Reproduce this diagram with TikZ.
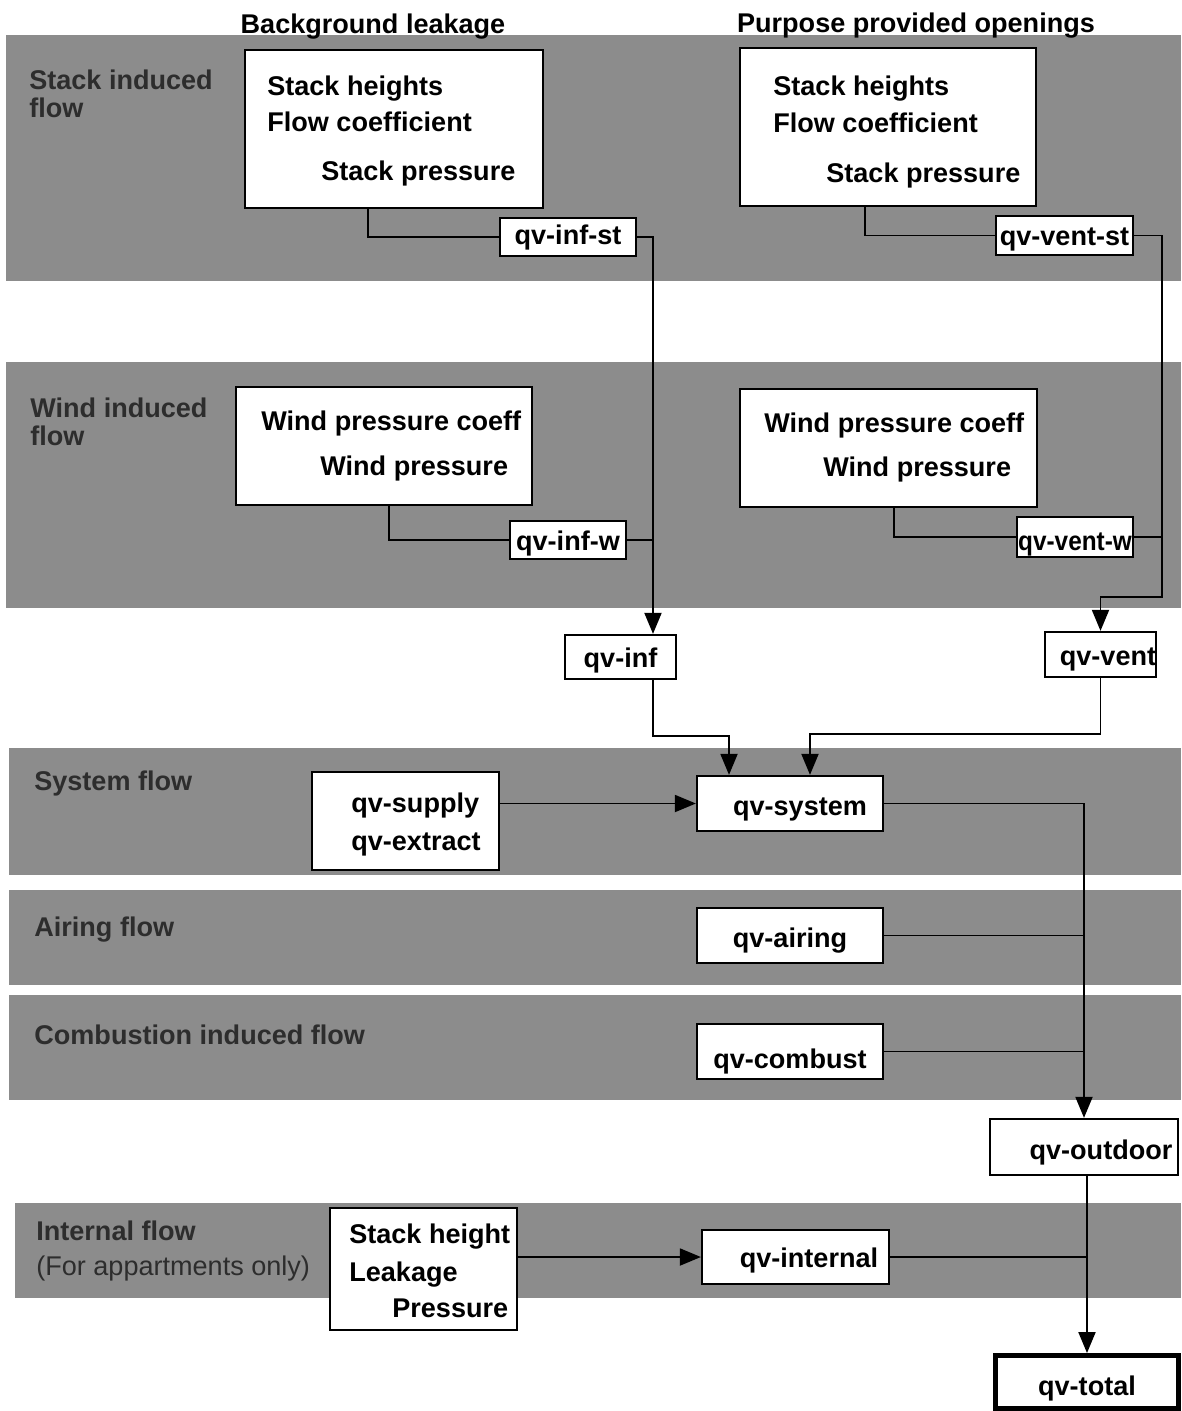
\documentclass[tikz,border=0pt]{standalone}
\usepackage{fontspec}
\setmainfont{Liberation Sans}
\usepackage{tikz}
\usetikzlibrary{calc}
\usetikzlibrary{arrows.meta}
\definecolor{bandgray}{RGB}{140,140,140}
\definecolor{labelgray}{RGB}{45,45,45}

\begin{document}
\begin{tikzpicture}[x=0.02cm, y=-0.02cm,
    band/.style={fill=bandgray},
    bandlabel/.style={anchor=west, align=left, inner sep=0pt, text=labelgray,
        font=\bfseries\fontsize{15.4}{15.9}\selectfont},
    heading/.style={anchor=base, inner sep=0pt, font=\bfseries\fontsize{15.4}{18}\selectfont},
    panel/.style={draw, line width=1.3pt, fill=white, inner sep=0pt},
    paneltext/.style={anchor=base west, inner sep=0pt, font=\bfseries\fontsize{15.4}{18}\selectfont},
    qvbox/.style={draw, line width=1.3pt, fill=white, inner sep=0pt, text depth=0pt,
        text height=#1, font=\bfseries\fontsize{15.4}{18}\selectfont},
    qvbox/.default=0.4cm,
    link/.style={line width=1.1pt},
    flow/.style={line width=1.1pt, -{Triangle[length=0.42cm,width=0.34cm]}}]
    \useasboundingbox (0,0) rectangle (1181,1411);

    % Draw the grey bands
    \foreach \xa/\ya/\yb in {6/35/281, 6/362/608, 9/748/875, 9/890/985, 9/995/1100, 15/1203/1298} {
        \fill[band] (\xa,\ya) rectangle (1181,\yb);
    }

    % Band labels
    \node[bandlabel] (lstack) at (29,94) {Stack induced\\flow};
    \node[bandlabel] (lwind) at (30,422) {Wind induced\\flow};
    \node[bandlabel] (lsystem) at (34,783) {System flow};
    \node[bandlabel] (lairing) at (34,930) {Airing flow};
    \node[bandlabel] (lcombust) at (34,1035) {Combustion induced flow};
    \node[bandlabel] (linternal) at (36,1251) {Internal flow\\[4pt]\mdseries(For appartments only)};

    % Column headings
    \node[heading] (hleak) at (373,33) {Background leakage};
    \node[heading] (hopen) at (916,32) {Purpose provided openings};

    % Input panels
    \node[panel, minimum width=5.96cm, minimum height=3.16cm] (blstack) at (394,129) {};
    \node[paneltext] (blstacka) at (267,95) {Stack heights};
    \node[paneltext] (blstackb) at (267,131) {Flow coefficient};
    \node[paneltext] (blstackc) at (321,180) {Stack pressure};

    \node[panel, minimum width=5.92cm, minimum height=3.16cm] (ppostack) at (888,127) {};
    \node[paneltext] (ppostacka) at (773,95) {Stack heights};
    \node[paneltext] (ppostackb) at (773,132) {Flow coefficient};
    \node[paneltext] (ppostackc) at (826,182) {Stack pressure};

    \node[panel, minimum width=5.92cm, minimum height=2.36cm] (blwind) at (384,446) {};
    \node[paneltext] (blwinda) at (261,430) {Wind pressure coeff};
    \node[paneltext] (blwindb) at (320,475) {Wind pressure};

    \node[panel, minimum width=5.94cm, minimum height=2.36cm] (ppowind) at (888.5,448) {};
    \node[paneltext] (ppowinda) at (764,432) {Wind pressure coeff};
    \node[paneltext] (ppowindb) at (823,476) {Wind pressure};

    \node[panel, minimum width=3.74cm, minimum height=1.96cm] (supply) at (405.5,821) {};
    \node[paneltext] (supplya) at (351,812) {qv-supply};
    \node[paneltext] (supplyb) at (351,850) {qv-extract};

    \node[panel, minimum width=3.74cm, minimum height=2.44cm] (intbox) at (423.5,1269) {};
    \node[paneltext] (intboxa) at (349,1243) {Stack height};
    \node[paneltext] (intboxb) at (349,1281) {Leakage};
    \node[paneltext] (intboxc) at (392,1317) {Pressure};

    % Flow boxes
    \node[qvbox=0.28cm, minimum width=2.72cm, minimum height=0.76cm] (infst) at (568,237) {qv-inf-st};
    \node[qvbox=0.38cm, minimum width=2.74cm, minimum height=0.78cm] (ventst) at (1064.5,235.5) {qv-vent-st};
    \node[qvbox=0.40cm, minimum width=2.32cm, minimum height=0.76cm] (infw) at (568,540) {qv-inf-w};
    \node[qvbox=0.52cm, minimum width=2.32cm, minimum height=0.80cm] (ventw) at (1075,537) {\scalebox{0.9}[1]{qv-vent-w}};
    \node[qvbox=0.40cm, minimum width=2.22cm, minimum height=0.88cm] (inf) at (620.5,657) {qv-inf};
    \node[qvbox=0.42cm, minimum width=2.22cm, minimum height=0.90cm] (vent) at (1100.5,654.5) {\hspace*{0.3cm}qv-vent};
    \node[qvbox=0.46cm, minimum width=3.72cm, minimum height=1.10cm] (system) at (790,803.5) {\hspace*{0.4cm}qv-system};
    \node[qvbox=0.46cm, minimum width=3.72cm, minimum height=1.10cm] (airing) at (790,935.5) {qv-airing};
    \node[qvbox=0.68cm, minimum width=3.72cm, minimum height=1.10cm] (combust) at (790,1051.5) {qv-combust};
    \node[qvbox=0.48cm, minimum width=3.76cm, minimum height=1.12cm] (outdoor) at (1084,1147) {\hspace*{0.68cm}qv-outdoor};
    \node[qvbox=0.40cm, minimum width=3.74cm, minimum height=1.08cm] (internal) at (795.5,1257) {\hspace*{0.54cm}qv-internal};
    \node[qvbox=0.52cm, line width=2.8pt, minimum width=3.66cm, minimum height=1.06cm] (total) at (1087,1382) {qv-total};

    % Bend points
    \coordinate (infbus) at ([xshift=0.65cm]inf.north);
    \coordinate (ventbend) at (1162,597);
    \coordinate (sysleft) at ([xshift=-1.22cm]system.north);
    \coordinate (sysright) at ([xshift=0.4cm]system.north);

    % Draw connectors
    \draw[link] ([xshift=-0.52cm]blstack.south) |- (infst.west);
    \draw[link] ([xshift=-0.46cm]ppostack.south) |- (ventst.west);
    \draw[link] ([xshift=0.1cm]blwind.south) |- (infw.west);
    \draw[link] ([xshift=0.11cm]ppowind.south) |- (ventw.west);
    \draw[flow] (infst.east) -| (infbus);
    \draw[link] (infw.east) -- (infw.east -| infbus);
    \draw[flow] (ventst.east) -| (ventbend) -| (vent.north);
    \draw[link] (ventw.east) -- (ventw.east -| ventbend);
    \draw[flow] (inf.south -| infbus) -- ++(0,56) -| (sysleft);
    \draw[flow] (vent.south) -- ++(0,56) -| (sysright);
    \draw[flow] (system.west -| supply.east) -- (system.west);
    \draw[flow] (system.east) -| (outdoor.north);
    \draw[link] (airing.east) -- (airing.east -| outdoor.north);
    \draw[link] (combust.east) -- (combust.east -| outdoor.north);
    \draw[flow] (internal.west -| intbox.east) -- (internal.west);
    \draw[flow] (outdoor.south -| total.north) -- (total.north);
    \draw[link] (internal.east) -- (internal.east -| total.north);
\end{tikzpicture}
\end{document}
